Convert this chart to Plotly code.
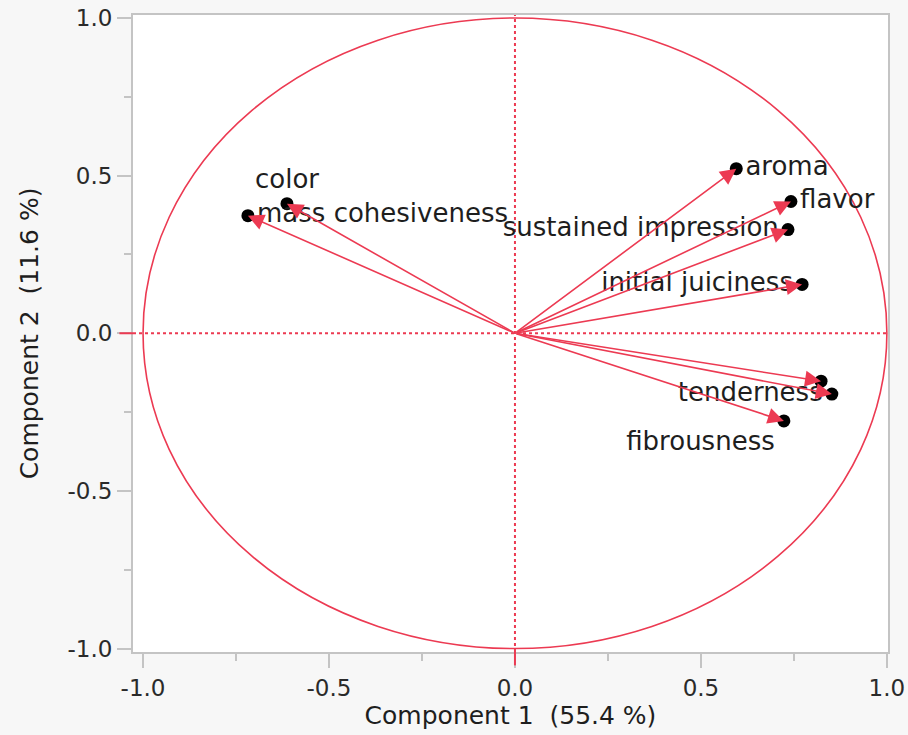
import plotly.graph_objects as go

# ---- data ----
variables = ["aroma", "flavor", "sustained impression", "initial juiciness",
             "", "tenderness", "fibrousness", "color", "mass cohesiveness"]
comp1 = [0.595, 0.742, 0.734, 0.772, 0.823, 0.852, 0.723, -0.613, -0.718]
comp2 = [0.522, 0.418, 0.329, 0.155, -0.152, -0.193, -0.278, 0.411, 0.373]
label_pos = ["middle right", "middle right", "middle left", "middle left",
             "middle left", "middle left", "bottom left", "top center", "middle right"]
x_title = "Component 1  (55.4 %)"
y_title = "Component 2  (11.6 %)"
tick_vals = [-1.0, -0.5, 0.0, 0.5, 1.0]
tick_text = ["-1.0", "-0.5", "0.0", "0.5", "1.0"]

RED = "#ec3a52"
GRID = "#c4c4c4"
FONT = "DejaVu Sans, sans-serif"

fig = go.Figure()

# black endpoint dots + labels
fig.add_trace(go.Scatter(
    x=comp1, y=comp2, mode="markers+text",
    marker=dict(color="black", size=13),
    text=variables, textposition=label_pos,
    textfont=dict(family=FONT, size=26, color="#1e1e1e"),
    cliponaxis=False, hoverinfo="skip", showlegend=False,
))

# arrows from the origin to each loading
for xv, yv in zip(comp1, comp2):
    fig.add_annotation(
        x=xv, y=yv, ax=0, ay=0, xref="x", yref="y", axref="x", ayref="y",
        showarrow=True, arrowhead=2, arrowsize=2.0, arrowwidth=1.6,
        arrowcolor=RED, text="",
    )

# unit circle
fig.add_shape(type="circle", xref="x", yref="y", x0=-1, y0=-1, x1=1, y1=1,
              line=dict(color=RED, width=1.6), layer="below")
# dotted zero lines
fig.add_shape(type="line", xref="x", yref="paper", x0=0, x1=0, y0=0, y1=1,
              line=dict(color=RED, width=2, dash="dot"), layer="below")
fig.add_shape(type="line", xref="paper", yref="y", x0=0, x1=1, y0=0, y1=0,
              line=dict(color=RED, width=2, dash="dot"), layer="below")
# red ticks at zero
fig.add_shape(type="line", xref="x", yref="paper", x0=0, x1=0, y0=-0.021, y1=0,
              line=dict(color=RED, width=2), layer="above")
fig.add_shape(type="line", xref="paper", yref="y", x0=-0.018, x1=0, y0=0, y1=0,
              line=dict(color=RED, width=2), layer="above")

axis_common = dict(
    showgrid=False, zeroline=False, automargin=False,
    showline=True, mirror=True, linecolor=GRID, linewidth=2,
    ticks="outside", ticklen=14, tickwidth=2, tickcolor=GRID,
    tickvals=tick_vals, ticktext=tick_text,
    tickfont=dict(family=FONT, size=23, color="#2a2a2a"),
    minor=dict(dtick=0.25, tick0=0, ticks="outside", ticklen=7,
               tickwidth=1.5, tickcolor=GRID),
)

fig.update_xaxes(range=[-1.027, 1.003], title=dict(text=x_title, standoff=6,
                 font=dict(family=FONT, size=25, color="#1e1e1e")), **axis_common)
fig.update_yaxes(range=[-1.011, 1.0095], title=dict(text=y_title, standoff=22,
                 font=dict(family=FONT, size=25, color="#1e1e1e")), **axis_common)

fig.update_layout(
    width=908, height=735,
    margin=dict(l=133, r=20, t=15, b=83),
    paper_bgcolor="#f7f7f7", plot_bgcolor="white",
    showlegend=False,
)

fig.write_html(
    "out.html",
    config={"displayModeBar": False},
    post_script="document.body.style.margin='0';"
                "document.body.style.background='#f7f7f7';"
                "document.body.style.overflow='hidden';",
)
